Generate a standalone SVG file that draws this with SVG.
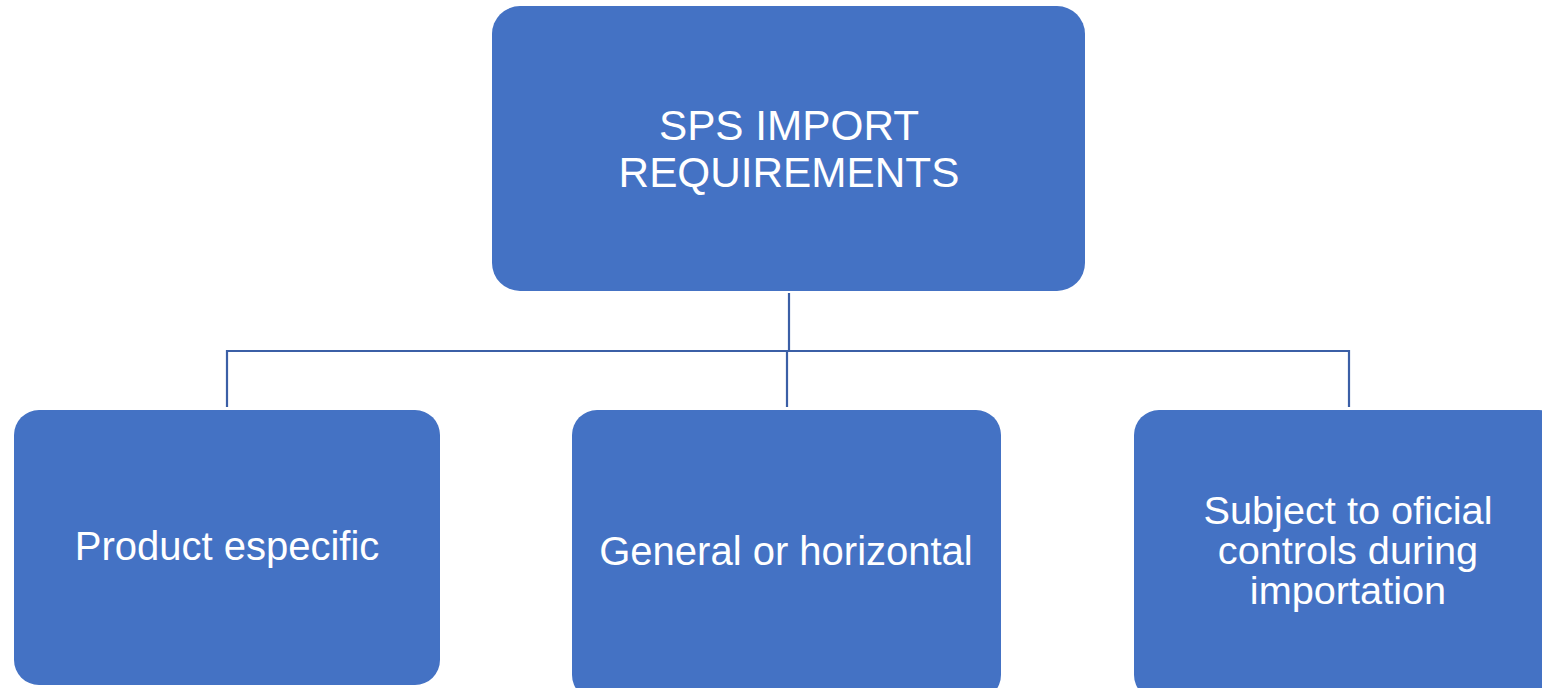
<svg xmlns="http://www.w3.org/2000/svg" width="1542" height="688" viewBox="0 0 1542 688">
<style>
.box{fill:#4472C4;}
.lbl{fill:#FFFFFF;font-family:"Liberation Sans",Arial,sans-serif;text-anchor:middle;}
.conn{stroke:#3B5FA6;stroke-width:2.2;fill:none;}
</style>
<rect width="1542" height="688" fill="#FFFFFF"/>
<g id="connectors">
<path class="conn" d="M789,293 V351"/>
<path class="conn" d="M227,407 V351 H1349 V407"/>
<path class="conn" d="M787,351 V407"/>
</g>
<g id="node-root">
<rect class="box" x="492" y="6" width="593" height="285" rx="28"/>
<text class="lbl" font-size="42.3" x="789" y="140">SPS IMPORT</text>
<text class="lbl" font-size="42.3" x="789" y="187">REQUIREMENTS</text>
</g>
<g id="node-product">
<rect class="box" x="14" y="410" width="426" height="275" rx="25"/>
<text class="lbl" font-size="40" x="227" y="560">Product especific</text>
</g>
<g id="node-general">
<rect class="box" x="572" y="410" width="429" height="290" rx="25"/>
<text class="lbl" font-size="40" x="786" y="565">General or horizontal</text>
</g>
<g id="node-subject">
<rect class="box" x="1134" y="410" width="430" height="290" rx="25"/>
<text class="lbl" font-size="39.7" x="1348" y="524">Subject to oficial</text>
<text class="lbl" font-size="39.7" x="1348" y="564">controls during</text>
<text class="lbl" font-size="39.7" x="1348" y="604">importation</text>
</g>
</svg>
